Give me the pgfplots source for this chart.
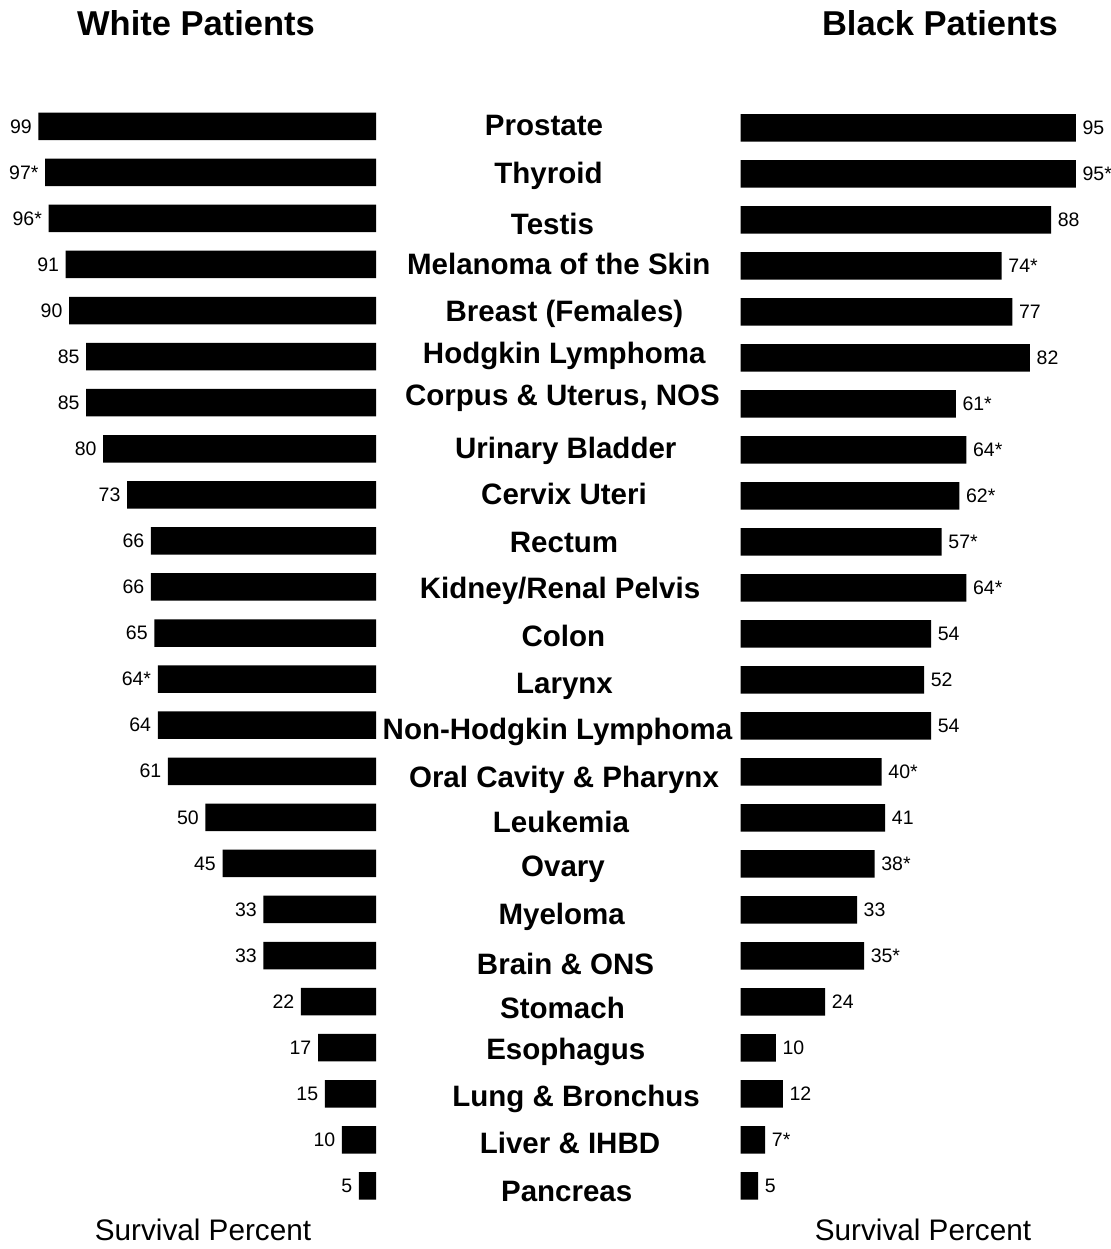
\documentclass[border=0pt]{standalone}
\usepackage{fontspec}
\setmainfont{Liberation Sans}
\usepackage{pgfplots}
\pgfplotsset{compat=1.18}
\usepackage{pgfplotstable}

% row, white %, white label, black %, black label
\pgfplotstableread{
i  w   wl   b   bl
0  99  99   95  95
1  97  97*  95  95*
2  96  96*  88  88
3  91  91   74  74*
4  90  90   77  77
5  85  85   82  82
6  85  85   61  61*
7  80  80   64  64*
8  73  73   62  62*
9  66  66   57  57*
10 66  66   64  64*
11 65  65   54  54
12 64  64*  52  52
13 64  64   54  54
14 61  61   40  40*
15 50  50   41  41
16 45  45   38  38*
17 33  33   33  33
18 33  33   35  35*
19 22  22   24  24
20 17  17   10  10
21 15  15   12  12
22 10  10   7   7*
23 5   5    5   5
}\survival

\pgfplotsset{
  half/.style={scale only axis, hide axis, clip=false, height=1249pt,
    y dir=reverse, anchor=south west},
  bars/.style 2 args={xbar, bar width=27.5pt, fill=black, draw=none,
    nodes near coords, point meta=explicit symbolic,
    nodes near coords align={anchor=#1},
    every node near coord/.append style={anchor=#1, inner sep=0pt, xshift=#2,
      font=\fontsize{19.5}{20}\selectfont, text=black}},
}

\begin{document}
\begin{tikzpicture}
\useasboundingbox (0,0) rectangle (1110pt,1249pt);

% white patients, bars grow to the left
\begin{axis}[half, at={(0pt,0pt)}, width=376pt,
  xmin=-110.26, xmax=0, ymin=-2.7415, ymax=24.370]
  \addplot[bars={east}{-6.5pt}] table[x expr=-\thisrow{w}, y=i, meta=wl] {\survival};
\end{axis}

% black patients
\begin{axis}[half, at={(740.5pt,0pt)}, width=369.5pt,
  xmin=0, xmax=104.67, ymin=-2.7826, ymax=24.37]
  \addplot[bars={west}{6.5pt}] table[x=b, y=i, meta=bl] {\survival};
\end{axis}

% site names, x centre / baseline in px from top
\foreach \xc/\yb/\txt in {
  544/135.7/Prostate, 548.5/183.3/Thyroid, 552.5/235/Testis,
  558.7/275/{Melanoma of the Skin}, 564.5/321.7/{Breast (Females)},
  564.2/363.3/{Hodgkin Lymphoma}, 562.5/406/{Corpus \& Uterus, NOS},
  565.8/458.3/{Urinary Bladder}, 564/505/{Cervix Uteri},
  564/552.7/Rectum, 560/598.3/{Kidney/Renal Pelvis}, 563.3/646.7/Colon,
  564.5/693.3/Larynx, 557.5/740/{Non-Hodgkin Lymphoma},
  564/788/{Oral Cavity \& Pharynx}, 561/833/Leukemia, 563/876.7/Ovary,
  561.7/925/Myeloma, 565.5/975/{Brain \& ONS}, 562.5/1018.3/Stomach,
  565.8/1060/Esophagus, 576/1106.7/{Lung \& Bronchus},
  570/1153.3/{Liver \& IHBD}, 566.7/1201.7/Pancreas}
  \node[anchor=base, inner sep=0pt, font=\bfseries\fontsize{29.5}{30}\selectfont]
    at ({\xc*1pt},{(1249-\yb)*1pt}) {\txt};

\node[anchor=base, inner sep=0pt, font=\bfseries\fontsize{34.5}{36}\selectfont]
  at (196pt,1213pt) {White Patients};
\node[anchor=base, inner sep=0pt, font=\bfseries\fontsize{34.5}{36}\selectfont]
  at (940pt,1213pt) {Black Patients};
\node[anchor=base, inner sep=0pt, font=\fontsize{29.7}{31}\selectfont]
  at (203pt,9pt) {Survival Percent};
\node[anchor=base, inner sep=0pt, font=\fontsize{29.7}{31}\selectfont]
  at (923pt,9pt) {Survival Percent};
\end{tikzpicture}
\end{document}
